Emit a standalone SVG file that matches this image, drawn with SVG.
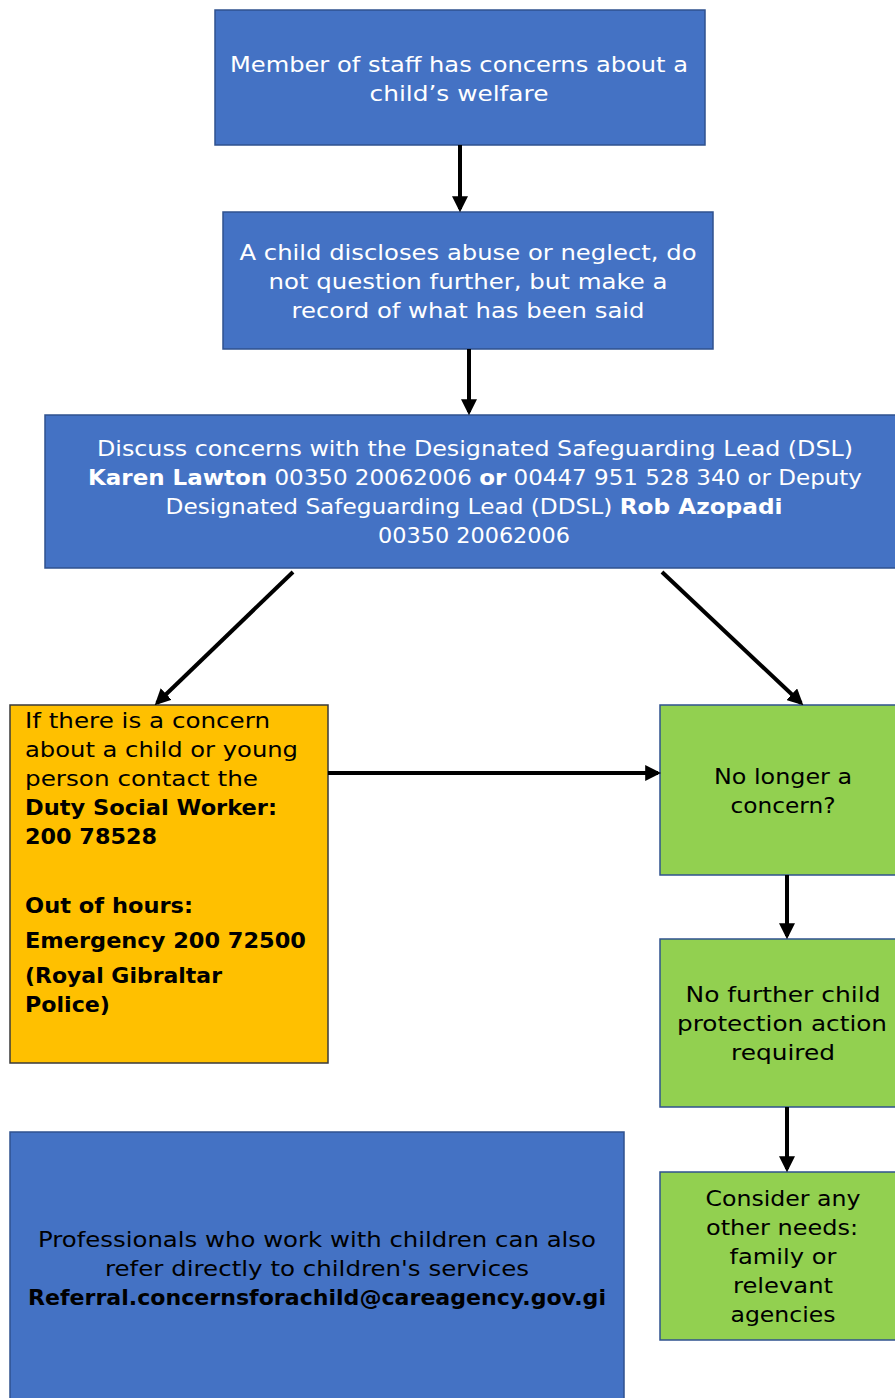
<svg xmlns="http://www.w3.org/2000/svg" width="895" height="1398" viewBox="0 0 895 1398">
<style>
.blue{fill:#4472C4;stroke:#2F528F;stroke-width:1.5}
.orange{fill:#FFC000;stroke:#3a3a3a;stroke-width:1.5}
.green{fill:#92D050;stroke:#2F528F;stroke-width:1.5}
text{font-family:"DejaVu Sans","Liberation Sans",sans-serif;font-size:21px}
.w{fill:#ffffff;text-anchor:middle}
.k{fill:#000000}
.c{text-anchor:middle}
.b{font-weight:bold}
.conn line{stroke:#000;stroke-width:4}
</style>
<defs>
<marker id="ah" markerWidth="4" markerHeight="4" refX="3.2" refY="2" orient="auto" markerUnits="strokeWidth">
<path d="M0,0 L4,2 L0,4 Z" fill="#000"/>
</marker>
</defs>
<g id="n1"><rect class="blue" x="215" y="10" width="490" height="135"/>
<text class="w" x="459" y="72" textLength="458" lengthAdjust="spacingAndGlyphs">Member of staff has concerns about a</text>
<text class="w" x="459" y="101" textLength="179" lengthAdjust="spacingAndGlyphs">child’s welfare</text></g>
<g id="n2"><rect class="blue" x="223" y="212" width="490" height="137"/>
<text class="w" x="468" y="260" textLength="457" lengthAdjust="spacingAndGlyphs">A child discloses abuse or neglect, do</text>
<text class="w" x="468" y="289" textLength="399" lengthAdjust="spacingAndGlyphs">not question further, but make a</text>
<text class="w" x="468" y="318" textLength="353" lengthAdjust="spacingAndGlyphs">record of what has been said</text></g>
<g id="n3"><rect class="blue" x="45" y="415" width="860" height="153"/>
<text class="w" x="475" y="456" textLength="756" lengthAdjust="spacingAndGlyphs">Discuss concerns with the Designated Safeguarding Lead (DSL)</text>
<text class="w" x="475" y="485" textLength="774" lengthAdjust="spacingAndGlyphs"><tspan class="b">Karen Lawton</tspan> 00350 20062006 <tspan class="b">or</tspan> 00447 951 528 340 or Deputy</text>
<text class="w" x="474" y="514" textLength="617" lengthAdjust="spacingAndGlyphs">Designated Safeguarding Lead (DDSL) <tspan class="b">Rob Azopadi</tspan></text>
<text class="w" x="474" y="543" textLength="192" lengthAdjust="spacingAndGlyphs">00350 20062006</text></g>
<g id="n4"><rect class="orange" x="10" y="705" width="318" height="358"/>
<text class="k" x="25" y="728" textLength="245" lengthAdjust="spacingAndGlyphs">If there is a concern</text>
<text class="k" x="25" y="757" textLength="273" lengthAdjust="spacingAndGlyphs">about a child or young</text>
<text class="k" x="25" y="786" textLength="233" lengthAdjust="spacingAndGlyphs">person contact the</text>
<text class="k b" x="25" y="815" textLength="252" lengthAdjust="spacingAndGlyphs">Duty Social Worker:</text>
<text class="k b" x="25" y="844" textLength="132" lengthAdjust="spacingAndGlyphs">200 78528</text>
<text class="k b" x="25" y="913" textLength="168" lengthAdjust="spacingAndGlyphs">Out of hours:</text>
<text class="k b" x="25" y="948" textLength="281" lengthAdjust="spacingAndGlyphs">Emergency 200 72500</text>
<text class="k b" x="25" y="983" textLength="197" lengthAdjust="spacingAndGlyphs">(Royal Gibraltar</text>
<text class="k b" x="25" y="1012" textLength="85" lengthAdjust="spacingAndGlyphs">Police)</text></g>
<g id="n5"><rect class="green" x="660" y="705" width="245" height="170"/>
<text class="k c" x="783" y="784" textLength="138" lengthAdjust="spacingAndGlyphs">No longer a</text>
<text class="k c" x="783" y="813" textLength="105" lengthAdjust="spacingAndGlyphs">concern?</text></g>
<g id="n6"><rect class="green" x="660" y="939" width="245" height="168"/>
<text class="k c" x="783" y="1002" textLength="195" lengthAdjust="spacingAndGlyphs">No further child</text>
<text class="k c" x="782" y="1031" textLength="210" lengthAdjust="spacingAndGlyphs">protection action</text>
<text class="k c" x="783" y="1060" textLength="104" lengthAdjust="spacingAndGlyphs">required</text></g>
<g id="n7"><rect class="green" x="660" y="1172" width="245" height="168"/>
<text class="k c" x="783" y="1206" textLength="155" lengthAdjust="spacingAndGlyphs">Consider any</text>
<text class="k c" x="782" y="1235" textLength="152" lengthAdjust="spacingAndGlyphs">other needs:</text>
<text class="k c" x="783" y="1264" textLength="107" lengthAdjust="spacingAndGlyphs">family or</text>
<text class="k c" x="783" y="1293" textLength="100" lengthAdjust="spacingAndGlyphs">relevant</text>
<text class="k c" x="783" y="1322" textLength="105" lengthAdjust="spacingAndGlyphs">agencies</text></g>
<g id="n8"><rect class="blue" x="10" y="1132" width="614" height="280"/>
<text class="k c" x="317" y="1247" textLength="558" lengthAdjust="spacingAndGlyphs">Professionals who work with children can also</text>
<text class="k c" x="317" y="1276" textLength="424" lengthAdjust="spacingAndGlyphs">refer directly to children's services</text>
<text class="k c b" x="317" y="1305" textLength="578" lengthAdjust="spacingAndGlyphs">Referral.concernsforachild@careagency.gov.gi</text></g>
<g class="conn" id="connectors">
<line x1="460" y1="145" x2="460" y2="209" marker-end="url(#ah)"/>
<line x1="469" y1="349" x2="469" y2="412" marker-end="url(#ah)"/>
<line x1="293" y1="572" x2="157" y2="703" marker-end="url(#ah)"/>
<line x1="662" y1="572" x2="801" y2="703" marker-end="url(#ah)"/>
<line x1="328" y1="773" x2="658" y2="773" marker-end="url(#ah)"/>
<line x1="787" y1="875" x2="787" y2="936" marker-end="url(#ah)"/>
<line x1="787" y1="1107" x2="787" y2="1169" marker-end="url(#ah)"/>
</g>
</svg>
